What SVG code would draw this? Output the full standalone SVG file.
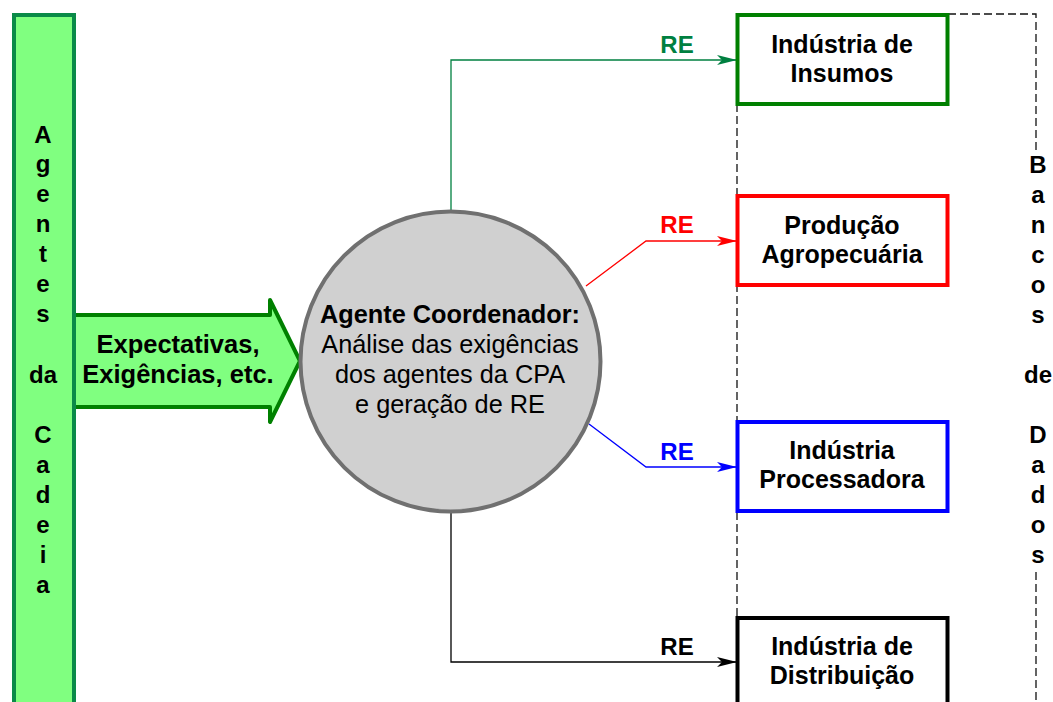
<svg xmlns="http://www.w3.org/2000/svg" width="1053" height="702" viewBox="0 0 1053 702">
<style>
text{font-family:"Liberation Sans",Arial,sans-serif;fill:#000}
.b{font-weight:bold}
.v{font-weight:bold;font-size:24px;text-anchor:middle}
.box{fill:#fff;stroke-width:4}
.lbl{font-weight:bold;font-size:25px;text-anchor:middle}
.re{font-weight:bold;font-size:24px;text-anchor:middle}
.dash{fill:none;stroke:#111;stroke-width:1.3;stroke-dasharray:8,4}
</style>
<defs>
<marker id="ag" viewBox="0 0 20 10" refX="20" refY="5" markerWidth="20" markerHeight="10" markerUnits="userSpaceOnUse" orient="auto"><path d="M0,0 L20,5 L0,10 L5,5 z" fill="#008040"/></marker>
<marker id="ar" viewBox="0 0 20 10" refX="20" refY="5" markerWidth="20" markerHeight="10" markerUnits="userSpaceOnUse" orient="auto"><path d="M0,0 L20,5 L0,10 L5,5 z" fill="#ff0000"/></marker>
<marker id="ab" viewBox="0 0 20 10" refX="20" refY="5" markerWidth="20" markerHeight="10" markerUnits="userSpaceOnUse" orient="auto"><path d="M0,0 L20,5 L0,10 L5,5 z" fill="#0000ff"/></marker>
<marker id="ak" viewBox="0 0 20 10" refX="20" refY="5" markerWidth="20" markerHeight="10" markerUnits="userSpaceOnUse" orient="auto"><path d="M0,0 L20,5 L0,10 L5,5 z" fill="#000"/></marker>
</defs>

<g id="dados-banco">
<path class="dash" d="M948,14 H1036 V152"/>
<path class="dash" d="M1036,572 V702"/>
<path class="dash" d="M737,104 V617"/>
<g class="v">
<text x="1038" y="173">B</text><text x="1038" y="203">a</text><text x="1038" y="233">n</text><text x="1038" y="263">c</text><text x="1038" y="293">o</text><text x="1038" y="323">s</text>
<text x="1038" y="383">de</text>
<text x="1038" y="443">D</text><text x="1038" y="473">a</text><text x="1038" y="503">d</text><text x="1038" y="533">o</text><text x="1038" y="563">s</text>
</g>
</g>

<g id="connectors" fill="none" stroke-width="1.3">
<path d="M451,210 V60 H737" stroke="#008040" marker-end="url(#ag)"/>
<path d="M586,286 L646,241 H737" stroke="#ff0000" marker-end="url(#ar)"/>
<path d="M589,424 L646,467 H737" stroke="#0000ff" marker-end="url(#ab)"/>
<path d="M451,513 V662 H737" stroke="#000" marker-end="url(#ak)"/>
<text class="re" x="677" y="53" style="fill:#008040">RE</text>
<text class="re" x="677" y="233" style="fill:#ff0000">RE</text>
<text class="re" x="677" y="460" style="fill:#0000ff">RE</text>
<text class="re" x="677" y="655">RE</text>
</g>

<g id="agentes-cadeia">
<rect x="14" y="15" width="60" height="700" fill="#80ff80" stroke="#0a8a48" stroke-width="4"/>
<g class="v">
<text x="43" y="143">A</text><text x="43" y="172">g</text><text x="43" y="202">e</text><text x="43" y="232">n</text><text x="43" y="262">t</text><text x="43" y="292">e</text><text x="43" y="322">s</text>
<text x="43" y="383">da</text>
<text x="43" y="443">C</text><text x="43" y="473">a</text><text x="43" y="503">d</text><text x="43" y="533">e</text><text x="43" y="563">i</text><text x="43" y="593">a</text>
</g>
</g>

<g id="expectativas">
<path d="M76,315 H270 V300 L300,361 L270,422 V407 H76 Z" fill="#80ff80" stroke="none"/>
<path d="M76,315 H270 V300 L300,361 L270,422 V407 H76" fill="none" stroke="#008000" stroke-width="4" stroke-linejoin="round"/>
<text class="b" x="178" y="353" font-size="25.5" text-anchor="middle">Expectativas,</text>
<text class="b" x="178" y="383" font-size="25.5" text-anchor="middle">Exigências, etc.</text>
</g>

<g id="agente-coordenador">
<circle cx="450.5" cy="361.5" r="150" fill="#d0d0d0" stroke="#707070" stroke-width="4"/>
<text x="450" y="323" font-size="25.3" text-anchor="middle" class="b">Agente Coordenador:</text>
<text x="450" y="353" font-size="25.3" text-anchor="middle">Análise das exigências</text>
<text x="450" y="383" font-size="25.3" text-anchor="middle">dos agentes da CPA</text>
<text x="450" y="413" font-size="25.3" text-anchor="middle">e geração de RE</text>
</g>

<g id="industria-insumos">
<rect class="box" x="737.5" y="15" width="210" height="89" stroke="#008000"/>
<text class="lbl" x="842" y="53">Indústria de</text>
<text class="lbl" x="842" y="82">Insumos</text>
</g>

<g id="producao-agropecuaria">
<rect class="box" x="737.5" y="196" width="210" height="89" stroke="#ff0000"/>
<text class="lbl" x="842" y="234">Produção</text>
<text class="lbl" x="842" y="263">Agropecuária</text>
</g>

<g id="industria-processadora">
<rect class="box" x="737.5" y="422" width="210" height="89" stroke="#0000ff"/>
<text class="lbl" x="842" y="459">Indústria</text>
<text class="lbl" x="842" y="488">Processadora</text>
</g>

<g id="industria-distribuicao">
<rect class="box" x="737.5" y="618" width="210" height="100" stroke="#000"/>
<text class="lbl" x="842" y="655">Indústria de</text>
<text class="lbl" x="842" y="684">Distribuição</text>
</g>
</svg>
